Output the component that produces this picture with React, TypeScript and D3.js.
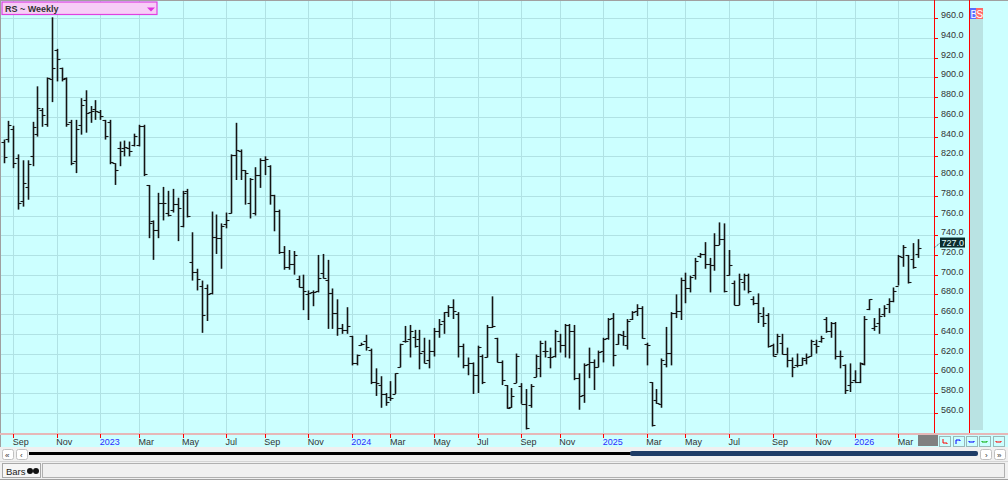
import React from 'react'
import * as d3 from 'd3'

// weekly bars, first visible bar is the week of 2022-08-19
const firstWeek = new Date(2022, 7, 19)

const opens = [
  835, 838, 848, 818, 775, 789, 820, 843, 867, 853,
  898, 928, 910, 899, 855, 815, 852, 877, 865, 868,
  865, 857, 855, 813, 828, 828, 828, 831, 832, 851,
  791, 754, 745, 773, 763, 766, 772, 749, 785, 713,
  703, 688, 686, 681, 738, 737, 751, 763, 821, 825,
  806, 773, 763, 801, 816, 810, 781, 765, 723, 708,
  711, 696, 687, 680, 682, 683, 702, 695, 681, 661,
  646, 644, 638, 610, 629, 633, 624, 591, 588, 579,
  576, 579, 606, 633, 635, 637, 635, 623, 613, 623,
  643, 653, 662, 667, 660, 628, 608, 610, 598, 617,
  616, 647, 636, 611, 588, 566, 590, 587, 569, 568,
  596, 605, 623, 616, 618, 633, 629, 649, 643, 595,
  578, 609, 611, 606, 623, 636, 656, 630, 639, 629,
  655, 663, 666, 630, 591, 573, 569, 609, 621, 661,
  663, 695, 686, 700, 719, 721, 711, 710, 730, 736,
  700, 692, 669, 693, 700, 675, 671, 658, 659, 629,
  620, 631, 620, 613, 608, 608, 613, 618, 630, 633,
  655, 643, 651, 618, 608, 588, 593, 591, 609, 665,
  646, 651, 660, 670, 673, 689, 718, 720, 716, 721,
]

const highs = [
  837, 856, 851, 822, 816, 816, 855, 891, 869, 900,
  961, 929, 910, 900, 857, 857, 879, 887, 871, 877,
  867, 857, 857, 813, 835, 836, 835, 843, 852, 852,
  791, 755, 783, 789, 785, 787, 778, 785, 787, 743,
  706, 694, 690, 764, 761, 752, 763, 822, 854, 827,
  806, 798, 809, 818, 820, 811, 781, 766, 729, 725,
  724, 699, 700, 684, 684, 720, 721, 715, 686, 675,
  650, 667, 638, 619, 631, 639, 625, 605, 597, 580,
  592, 600, 630, 648, 649, 644, 644, 636, 634, 646,
  655, 662, 669, 675, 662, 630, 616, 611, 628, 619,
  649, 678, 636, 613, 588, 585, 620, 590, 584, 589,
  619, 633, 633, 626, 644, 640, 650, 650, 649, 600,
  610, 626, 614, 623, 636, 656, 661, 640, 643, 655,
  663, 670, 668, 631, 591, 584, 615, 647, 662, 680,
  697, 702, 699, 717, 722, 733, 717, 742, 753, 752,
  725, 694, 701, 701, 701, 678, 681, 667, 661, 630,
  640, 640, 626, 616, 620, 616, 620, 634, 634, 638,
  657, 652, 652, 623, 609, 610, 603, 611, 658, 675,
  656, 666, 669, 676, 687, 720, 730, 720, 732, 736,
]

const lows = [
  813, 834, 808, 766, 769, 776, 810, 840, 850, 850,
  875, 896, 896, 850, 811, 803, 842, 844, 854, 857,
  857, 837, 812, 791, 810, 820, 820, 830, 830, 800,
  737, 715, 737, 755, 759, 763, 734, 748, 758, 694,
  684, 641, 653, 680, 721, 706, 747, 762, 796, 796,
  771, 757, 760, 788, 801, 771, 744, 721, 705, 705,
  700, 687, 664, 654, 668, 682, 696, 645, 645, 638,
  640, 640, 608, 608, 628, 623, 589, 577, 565, 567,
  572, 579, 606, 631, 616, 626, 604, 610, 605, 617,
  636, 640, 657, 655, 616, 605, 598, 579, 580, 589,
  616, 646, 611, 588, 564, 565, 590, 569, 543, 565,
  596, 596, 616, 605, 616, 621, 616, 615, 593, 563,
  570, 595, 583, 606, 611, 634, 607, 629, 628, 624,
  654, 658, 635, 608, 546, 569, 565, 606, 608, 656,
  654, 671, 682, 695, 717, 706, 682, 704, 730, 682,
  699, 669, 669, 684, 681, 669, 651, 647, 626, 617,
  620, 619, 606, 596, 606, 608, 609, 617, 620, 631,
  641, 636, 614, 605, 579, 581, 590, 590, 608, 664,
  643, 640, 657, 661, 672, 689, 708, 691, 706, 717,
]

const closes = [
  819, 852, 813, 773, 793, 812, 850, 869, 862, 899,
  910, 919, 898, 853, 813, 848, 872, 864, 866, 866,
  861, 841, 814, 806, 825, 829, 825, 841, 851, 802,
  752, 745, 773, 773, 761, 772, 768, 783, 759, 703,
  696, 659, 680, 738, 737, 749, 755, 821, 826, 806,
  803, 797, 801, 816, 817, 781, 765, 723, 708, 711,
  720, 687, 683, 681, 682, 697, 697, 681, 661, 646,
  644, 648, 610, 619, 630, 627, 591, 590, 579, 571,
  575, 600, 630, 633, 643, 628, 621, 610, 623, 643,
  650, 662, 667, 663, 628, 608, 610, 598, 627, 591,
  647, 648, 611, 593, 565, 577, 617, 569, 544, 587,
  618, 631, 623, 616, 643, 629, 649, 643, 595, 577,
  608, 611, 606, 622, 635, 655, 619, 640, 638, 653,
  662, 666, 636, 629, 548, 570, 613, 621, 661, 663,
  695, 686, 698, 714, 721, 711, 710, 730, 736, 683,
  710, 669, 696, 700, 683, 671, 661, 651, 628, 618,
  638, 620, 613, 606, 608, 615, 616, 633, 628, 636,
  643, 651, 618, 617, 583, 591, 591, 610, 655, 675,
  648, 658, 666, 673, 683, 719, 728, 693, 708, 727,
]

const priceTicks = d3.range(560, 961, 20)
const lastPrice = 727.0
const title = 'RS ~ Weekly'

const W = 1008
const H = 480
const plotRight = 934
const plotBottom = 433
const FONT = '"Liberation Sans", Arial, sans-serif'

const dates = opens.map((_, i) => d3.timeDay.offset(firstWeek, 7 * i))

const x = d3.scaleTime()
  .domain([new Date(2022, 7, 12), new Date(2026, 3, 3)])
  .range([-1.26, 917.6])

const y = d3.scaleLinear()
  .domain([560, 960])
  .range([412.7, 18.3])

// first bar of every other month gets a tick
const monthTicks: { date: Date; label: string; year: boolean }[] = []
dates.forEach((d, i) => {
  const m = d.getMonth()
  if (m % 2 !== 0) return
  if (i === 0 || dates[i - 1].getMonth() === m) return
  monthTicks.push({ date: d, label: m === 0 ? String(d.getFullYear()) : d3.timeFormat('%b')(d), year: m === 0 })
})

const px = (v: number) => Math.round(v) + 0.5

const App: React.FC = () => {
  const fmt = d3.format('.1f')
  const lastY = y(lastPrice)

  return (
    <svg width={W} height={H} style={{ position: 'absolute', left: 0, top: 0, fontFamily: FONT }}>
      {/* background */}
      <rect x={0} y={0} width={W} height={447} fill="#ccffff" />
      <rect x={970} y={19} width={13} height={411} fill="#b9e3e3" />
      <rect x={970} y={8} width={6} height={11} fill="#5a6cff" />
      <rect x={976} y={8} width={7} height={11} fill="#ff6a6a" />
      <text x={970.5} y={17.5} fontSize={10} fill="#fff">B</text>
      <text x={976.5} y={17.5} fontSize={10} fill="#fff">S</text>

      {/* grid */}
      {priceTicks.map(v => (
        <line key={'h' + v} x1={0} x2={plotRight} y1={px(y(v))} y2={px(y(v))} stroke="#b0e2e4" />
      ))}
      {monthTicks.map(t => (
        <line key={'v' + t.date.getTime()} x1={px(x(t.date))} x2={px(x(t.date))} y1={0} y2={plotBottom} stroke="#b0e2e4" />
      ))}

      {/* OHLC bars */}
      {opens.map((o, i) => {
        const bx = px(x(dates[i]))
        const yo = px(y(o))
        const yc = px(y(closes[i]))
        return (
          <g key={i} stroke="#151515">
            <line x1={bx} x2={bx} y1={y(highs[i])} y2={y(lows[i])} strokeWidth={1.6} />
            <line x1={bx - 3} x2={bx} y1={yo} y2={yo} strokeWidth={1.1} />
            <line x1={bx} x2={bx + 3} y1={yc} y2={yc} strokeWidth={1.1} />
          </g>
        )
      })}

      {/* frame */}
      <line x1={0} x2={W} y1={0.5} y2={0.5} stroke="#a0a0a0" />
      <line x1={0.5} x2={0.5} y1={0} y2={447} stroke="#a0a0a0" />
      <line x1={plotRight + 0.5} x2={plotRight + 0.5} y1={0} y2={plotBottom} stroke="#ff0000" />
      <line x1={969.5} x2={969.5} y1={0} y2={plotBottom} stroke="#ff0000" />

      {/* price axis */}
      {priceTicks.map(v => (
        <g key={'p' + v}>
          <line x1={plotRight} x2={plotRight + 4} y1={px(y(v))} y2={px(y(v))} stroke="#ff0000" />
          <text x={941} y={y(v)} fontSize={9} fill="#333">{fmt(v)}</text>
        </g>
      ))}
      <line x1={plotRight} x2={940} y1={lastY} y2={lastY - 5} stroke="#333" strokeDasharray="1,1" />
      <rect x={940} y={lastY - 10.5} width={25} height={10} fill="#0b2c2c" />
      <text x={941.5} y={lastY - 2} fontSize={9} fill="#e6ffff">{fmt(lastPrice)}</text>

      {/* time axis */}
      <rect x={0} y={plotBottom} width={W} height={2} fill="#e6b8b8" />
      {monthTicks.map(t => (
        <g key={'t' + t.date.getTime()}>
          <line x1={px(x(t.date))} x2={px(x(t.date))} y1={plotBottom + 1} y2={plotBottom + 5} stroke="#ff0000" />
          <text x={x(t.date) - 0.5} y={445} fontSize={9} fill={t.year ? '#2d2dff' : '#333'}>{t.label}</text>
        </g>
      ))}
      <rect x={918} y={435} width={20} height={11} fill="#808080" />
      {[939, 953, 966, 979, 993].map((bx, k) => (
        <rect key={'b' + k} x={bx + 0.5} y={436.5} width={11} height={10} fill="#ccffff" stroke="#9ab8b8" />
      ))}
      <path d="M943,439 v4 h4 v1" fill="none" stroke="#ff0000" />
      <path d="M956,444 v-4 h4 v1" fill="none" stroke="#0000ff" />
      <path d="M969,441 v1 h5 v-1" fill="none" stroke="#0000ff" />
      <path d="M982,441 v1 h5 v-1" fill="none" stroke="#00aa00" />
      <path d="M996,441 v1 h5 v-1" fill="none" stroke="#ff0000" />

      {/* scroll bar */}
      <rect x={0} y={447} width={W} height={14} fill="#f0f0f0" />
      <rect x={2.5} y={449.5} width={11} height={10} rx={2} fill="#fff" stroke="#c0c0c0" />
      <rect x={16.5} y={449.5} width={11} height={10} rx={2} fill="#fff" stroke="#c0c0c0" />
      <text x={5} y={457.5} fontSize={8} fill="#333">«</text>
      <text x={20} y={457.5} fontSize={8} fill="#333">‹</text>
      <rect x={29} y={452} width={602} height={3} fill="#000" />
      <rect x={630} y={451} width={348} height={5} rx={2} fill="#1e3c66" />
      <rect x={980.5} y={449.5} width={11} height={10} rx={2} fill="#fff" stroke="#c0c0c0" />
      <rect x={994.5} y={449.5} width={11} height={10} rx={2} fill="#fff" stroke="#c0c0c0" />
      <text x={985} y={457.5} fontSize={8} fill="#333">›</text>
      <text x={997} y={457.5} fontSize={8} fill="#333">»</text>

      {/* bottom panel */}
      <rect x={0} y={461} width={W} height={19} fill="#f0f0f0" />
      <line x1={0} x2={W} y1={461.5} y2={461.5} stroke="#d4d4d4" />
      <rect x={2.5} y={463.5} width={38} height={14} fill="#f6f6f6" stroke="#a8a8a8" />
      <text x={6} y={474.5} fontSize={9.5} fill="#222">Bars</text>
      <circle cx={30} cy={471} r={3} fill="#111" />
      <circle cx={36} cy={471} r={3} fill="#111" />
      <rect x={42.5} y={463.5} width={962} height={14} fill="#f0f0f0" stroke="#b0b0b0" />
      <line x1={0} x2={W} y1={479.5} y2={479.5} stroke="#a0a0a0" />

      {/* legend */}
      <rect x={2} y={2} width={155} height={12.5} fill="#f7cdf7" stroke="#e040e0" strokeWidth={1.2} />
      <text x={5} y={12} fontSize={9} fontWeight="bold" fill="#333">{title}</text>
      <path d="M147,7.5 h8 l-4,4 z" fill="#e030e0" />
    </svg>
  )
}

export default App
